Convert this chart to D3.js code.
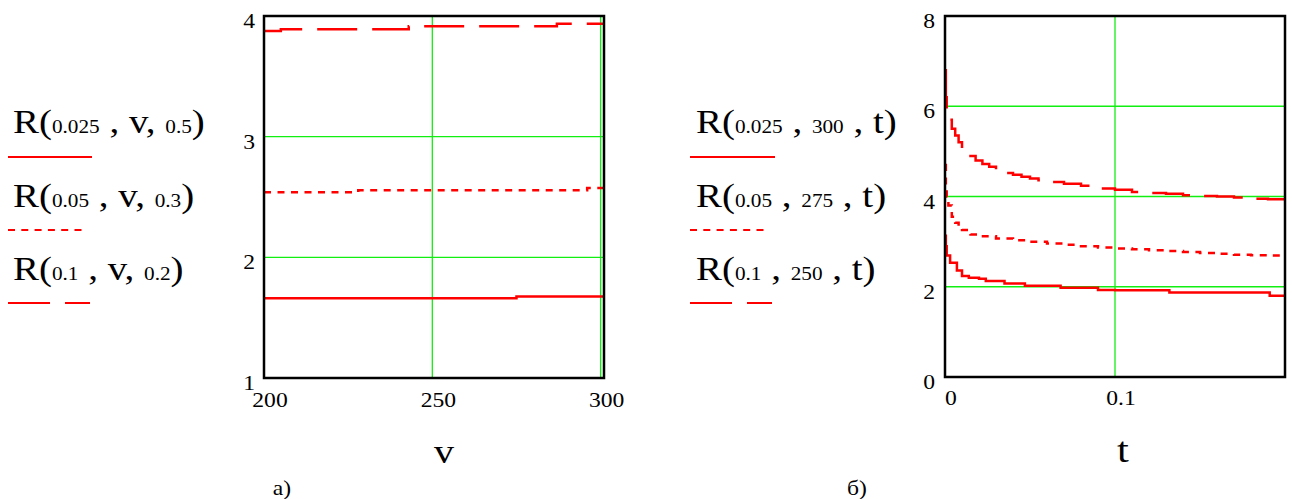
<!DOCTYPE html>
<html>
<head>
<meta charset="utf-8">
<script src="https://cdn.jsdelivr.net/npm/d3@7"></script>
<style>
  body { margin: 0; background: #fff; }
  svg { display: block; }
  text { font-family: "Liberation Serif", "Times New Roman", Times, serif; fill: #000; }
</style>
</head>
<body>
<svg id="main_svg" width="1292" height="499"></svg>
<script>
// ---- data ----
const vTicks = [200, 250, 300];
const rTicksA = [1, 2, 3, 4];
const tTicks = [0, 0.1];
const rTicksB = [0, 2, 4, 6, 8];

// chart a): R(k, v, tau) against v
const vSolid = [200, 275, 301];
const rSolidA = [1.66, 1.675, 1.675];
const vDotted = [200, 228, 296, 301];
const rDottedA = [2.54, 2.555, 2.575, 2.575];
const vDashed = [200, 205, 243, 287, 301];
const rDashedA = [3.875, 3.89, 3.915, 3.935, 3.935];

// chart б): R(k, v, t) against t
const tSolid = [0, 0.0005, 0.001, 0.003, 0.007, 0.010, 0.014, 0.020, 0.024, 0.035, 0.047, 0.068, 0.090, 0.100, 0.132, 0.191, 0.200];
const rSolidB = [3.13, 2.9, 2.69, 2.53, 2.36, 2.24, 2.2, 2.18, 2.13, 2.07, 2.02, 1.98, 1.93, 1.92, 1.87, 1.8, 1.8];
const tDotted = [0, 0.0005, 0.001, 0.002, 0.004, 0.006, 0.008, 0.010, 0.015, 0.020, 0.030, 0.040, 0.050, 0.060, 0.070, 0.080, 0.090, 0.100, 0.110, 0.120, 0.130, 0.140, 0.150, 0.160, 0.170, 0.180, 0.190, 0.200];
const rDottedB = [4.7, 4.2, 4.0, 3.8, 3.55, 3.42, 3.32, 3.26, 3.16, 3.12, 3.07, 3.03, 3.0, 2.96, 2.93, 2.9, 2.87, 2.85, 2.83, 2.81, 2.79, 2.77, 2.75, 2.73, 2.71, 2.7, 2.69, 2.68];
const tDashed = [0, 0.0005, 0.001, 0.002, 0.004, 0.006, 0.008, 0.010, 0.012, 0.015, 0.018, 0.022, 0.026, 0.030, 0.035, 0.040, 0.045, 0.050, 0.055, 0.060, 0.070, 0.080, 0.090, 0.100, 0.110, 0.120, 0.130, 0.140, 0.150, 0.160, 0.170, 0.180, 0.190, 0.200];
const rDashedB = [6.8, 6.2, 5.9, 5.7, 5.5, 5.35, 5.2, 5.1, 4.98, 4.9, 4.8, 4.72, 4.66, 4.6, 4.52, 4.48, 4.44, 4.4, 4.36, 4.32, 4.28, 4.24, 4.18, 4.15, 4.1, 4.08, 4.06, 4.03, 4.01, 4.0, 3.98, 3.95, 3.94, 3.93];

const legendA = [
  ["R(", "0.025", " , v, ", "0.5", ")"],
  ["R(", "0.05", " , v, ", "0.3", ")"],
  ["R(", "0.1", " , v, ", "0.2", ")"]
];
const legendB = [
  ["R(", "0.025", " , ", "300", " , t)"],
  ["R(", "0.05", " , ", "275", " , t)"],
  ["R(", "0.1", " , ", "250", " , t)"]
];

const RED = "#ff0000";
const GREEN = "#11ee11";
const STX = 1.18; // the source text is a bit wide
const dashes = ["none", "7,6.5", "40,15"];

const svg = d3.select("#main_svg");

// text with horizontal stretch, parts alternate big / small
function label(x, y, parts, size, anchor, smallSize) {
  const t = svg
    .append("g")
    .attr("transform", `translate(${x},${y}) scale(${STX},1)`)
    .append("text")
    .attr("text-anchor", anchor || "start")
    .style("font-size", size + "px");
  parts.forEach((p, i) => {
    t.append("tspan")
      .style("font-size", (i % 2 === 1 ? smallSize : size) + "px")
      .text(p);
  });
  return t;
}

function drawPanel(opt) {
  const x = d3.scaleLinear().domain(opt.xDomain).range(opt.xRange);
  const y = d3.scaleLinear().domain(opt.yDomain).range(opt.yRange);
  const g = svg.append("g");

  g.append("clipPath")
    .attr("id", opt.id)
    .append("rect")
    .attr("x", opt.xRange[0])
    .attr("y", opt.yRange[1])
    .attr("width", opt.xRange[1] - opt.xRange[0])
    .attr("height", opt.yRange[0] - opt.yRange[1]);

  // green grid
  g.selectAll(".hg")
    .data(opt.hGrid)
    .enter()
    .append("line")
    .attr("x1", opt.xRange[0])
    .attr("x2", opt.xRange[1])
    .attr("y1", d => y(d))
    .attr("y2", d => y(d))
    .attr("stroke", GREEN)
    .attr("stroke-width", 1.3);
  g.selectAll(".vg")
    .data(opt.vGrid)
    .enter()
    .append("line")
    .attr("x1", d => x(d))
    .attr("x2", d => x(d))
    .attr("y1", opt.yRange[0])
    .attr("y2", opt.yRange[1])
    .attr("stroke", GREEN)
    .attr("stroke-width", 1.3);

  const line = d3
    .line()
    .x(d => x(d[0]))
    .y(d => y(d[1]))
    .curve(d3.curveStepAfter);

  opt.series.forEach((s, i) => {
    g.append("path")
      .datum(d3.zip(s[0], s[1]))
      .attr("d", line)
      .attr("clip-path", `url(#${opt.id})`)
      .attr("fill", "none")
      .attr("stroke", RED)
      .attr("stroke-width", 2.5)
      .attr("stroke-dasharray", dashes[i]);
  });

  // frame
  g.append("rect")
    .attr("x", opt.xRange[0])
    .attr("y", opt.yRange[1])
    .attr("width", opt.xRange[1] - opt.xRange[0])
    .attr("height", opt.yRange[0] - opt.yRange[1])
    .attr("fill", "none")
    .attr("stroke", "#000")
    .attr("stroke-width", 2.5);

  // tick labels
  opt.yTicks.forEach(d => {
    label(opt.yLabelX, y(d) + 12, [String(d)], 20, "end");
  });
  opt.xTicks.forEach(d => {
    label(x(d) + 6, opt.xLabelY, [String(d)], 20, "middle");
  });
}

drawPanel({
  id: "clipA",
  xDomain: [200, 301],
  xRange: [264, 604],
  yDomain: [1, 4],
  yRange: [378, 16],
  hGrid: [2, 3],
  vGrid: [250, 300],
  yTicks: rTicksA,
  xTicks: vTicks,
  yLabelX: 255,
  xLabelY: 407,
  series: [[vSolid, rSolidA], [vDotted, rDottedA], [vDashed, rDashedA]]
});

drawPanel({
  id: "clipB",
  xDomain: [0, 0.2],
  xRange: [945, 1285],
  yDomain: [0, 8],
  yRange: [377, 16],
  hGrid: [2, 4, 6],
  vGrid: [0.1],
  yTicks: rTicksB,
  xTicks: tTicks,
  yLabelX: 935,
  xLabelY: 405,
  series: [[tSolid, rSolidB], [tDotted, rDottedB], [tDashed, rDashedB]]
});

// legends
const rowY = [133, 207, 280];
const lineY = [157, 230, 303];
function legend(x0, lx0, lengths, rows) {
  rows.forEach((parts, i) => {
    label(x0, rowY[i], parts, 33, "start", 18);
  });
  // sample strokes
  svg.append("line")
    .attr("x1", lx0).attr("x2", lx0 + lengths[0])
    .attr("y1", lineY[0]).attr("y2", lineY[0])
    .attr("stroke", RED).attr("stroke-width", 2);
  svg.append("line")
    .attr("x1", lx0).attr("x2", lx0 + lengths[1])
    .attr("y1", lineY[1]).attr("y2", lineY[1])
    .attr("stroke", RED).attr("stroke-width", 2)
    .attr("stroke-dasharray", "7,6.3");
  svg.append("line")
    .attr("x1", lx0).attr("x2", lx0 + lengths[2])
    .attr("y1", lineY[2]).attr("y2", lineY[2])
    .attr("stroke", RED).attr("stroke-width", 2)
    .attr("stroke-dasharray", "42,15");
}
legend(13, 8, [84, 78, 82], legendA);
legend(696, 690, [85, 78, 82], legendB);

// axis names and captions
label(444, 463, ["v"], 34, "middle");
label(1123, 462, ["t"], 36, "middle");
label(282, 495, ["а)"], 20, "middle");
label(857, 495, ["б)"], 20, "middle");
</script>
</body>
</html>
